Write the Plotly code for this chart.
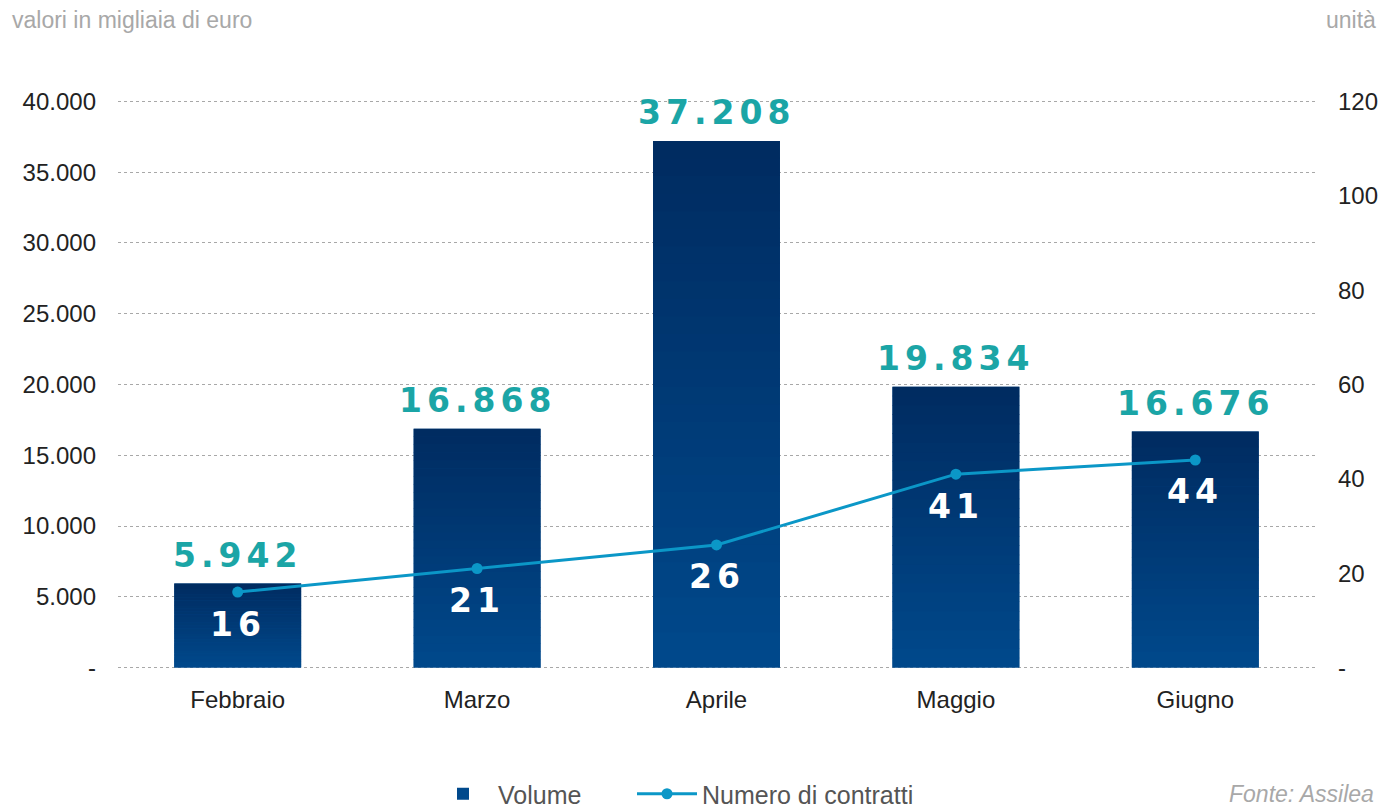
import plotly.graph_objects as go

# Monthly leasing volume (thousand euro) and number of contracts
mesi = ["Febbraio", "Marzo", "Aprile", "Maggio", "Giugno"]
volume = [5942, 16868, 37208, 19834, 16676]
contratti = [16, 21, 26, 41, 44]

left_tickvals = [0, 5000, 10000, 15000, 20000, 25000, 30000, 35000, 40000]
left_ticktext = ["-", "5.000", "10.000", "15.000", "20.000", "25.000", "30.000", "35.000", "40.000"]
right_tickvals = [0, 20, 40, 60, 80, 100, 120]
right_ticktext = ["-", "20", "40", "60", "80", "100", "120"]

BAR_TOP = (0x00, 0x2b, 0x60)
BAR_BOTTOM = (0x00, 0x49, 0x8c)
LINE_COLOR = "#0b97c7"
TEAL = "#1ba5a6"
N_STEPS = 30
BAR_WIDTH = 0.53

# Small padding so the gridlines at 0 and at the top value stay visible
PAD = 0.0025
Y1_RANGE = [-40000 * PAD, 40000 * (1 + PAD)]
Y2_RANGE = [-120 * PAD, 120 * (1 + PAD)]


def fmt_it(v):
    return f"{v:,}".replace(",", ".")


def mix(t):
    r = [round(BAR_BOTTOM[i] + (BAR_TOP[i] - BAR_BOTTOM[i]) * t) for i in range(3)]
    return f"rgb({r[0]},{r[1]},{r[2]})"


fig = go.Figure()

# Base bar (legend entry) in the lower tone
fig.add_trace(go.Bar(
    x=mesi, y=volume, name="Volume", legend="legend",
    marker=dict(color=mix(0.0), line=dict(width=0)),
    width=BAR_WIDTH, hoverinfo="skip",
))

# Vertical gradient: stacked slices of each bar, darker towards the top
for k in range(N_STEPS):
    fig.add_trace(go.Bar(
        x=mesi,
        y=[v / N_STEPS + (v * 0.002 if k < N_STEPS - 1 else 0) for v in volume],
        base=[v * k / N_STEPS for v in volume],
        marker=dict(color=mix((k + 0.5) / N_STEPS), line=dict(width=0)),
        width=BAR_WIDTH, showlegend=False, hoverinfo="skip",
    ))

fig.add_trace(go.Scatter(
    x=mesi, y=contratti, yaxis="y2", name="Numero di contratti",
    legend="legend2", mode="lines+markers",
    line=dict(color=LINE_COLOR, width=3),
    marker=dict(color=LINE_COLOR, size=11),
))

label_font = "DejaVu Sans"
annotations = []
for m, v in zip(mesi, volume):
    annotations.append(dict(
        x=m, y=v, xref="x", yref="y", yshift=28, showarrow=False,
        text=f'<span style="letter-spacing:5px">{fmt_it(v)}</span>',
        font=dict(family=label_font, size=33, color=TEAL, weight="bold"),
        yanchor="middle",
    ))
for m, c in zip(mesi, contratti):
    annotations.append(dict(
        x=m, y=c, xref="x", yref="y2", yshift=-32, showarrow=False,
        text=f'<span style="letter-spacing:5px">{c}</span>',
        font=dict(family=label_font, size=33, color="white", weight="bold"),
        yanchor="middle",
    ))

page_notes = [
    dict(x=10, y=20, text="valori in migliaia di euro", xanchor="left"),
    dict(x=1378, y=20, text="unità", xanchor="right"),
    dict(x=1376, y=794, text="<i>Fonte: Assilea</i>", xanchor="right"),
]

W, H = 1386, 808
L, R, T, B = 118, 71, 100, 139
PW, PH = W - L - R, H - T - B


def px_x(x):
    return (x - L) / PW


def px_y(y):
    return 1 - (y - T) / PH


for n in page_notes:
    annotations.append(dict(
        x=px_x(n["x"]), y=px_y(n["y"]), xref="paper", yref="paper",
        text=n["text"], showarrow=False, xanchor=n["xanchor"], yanchor="middle",
        font=dict(family="Liberation Sans", size=23, color="#a8a8a8"),
    ))

legend_style = dict(
    orientation="h", yanchor="middle", y=px_y(794), xanchor="left",
    font=dict(size=25, color="#555555"), itemwidth=60,
    bgcolor="rgba(0,0,0,0)",
)

fig.update_layout(
    width=W, height=H,
    margin=dict(l=L, r=R, t=T, b=B, pad=0, autoexpand=False),
    paper_bgcolor="white", plot_bgcolor="white",
    barmode="overlay", bargap=0.47,
    font=dict(family="Liberation Sans", size=24, color="#222222"),
    xaxis=dict(
        range=[-0.5, 4.5], showgrid=False, zeroline=False, showline=False,
        ticks="", ticklabelstandoff=14, tickfont=dict(size=24, color="#222222"),
    ),
    yaxis=dict(
        range=Y1_RANGE, tickvals=left_tickvals, ticktext=left_ticktext,
        showgrid=True, gridcolor="#a8a8a8", griddash="dot", gridwidth=1,
        zeroline=False, showline=False, ticks="", ticklabelstandoff=21,
        tickfont=dict(size=24, color="#222222"),
    ),
    yaxis2=dict(
        range=Y2_RANGE, tickvals=right_tickvals, ticktext=right_ticktext,
        overlaying="y", side="right", showgrid=False, zeroline=False,
        showline=False, ticks="", ticklabelstandoff=22,
        tickfont=dict(size=24, color="#222222"),
    ),
    legend=dict(legend_style, x=px_x(428)),
    legend2=dict(legend_style, x=px_x(632)),
    annotations=annotations,
    showlegend=True,
)

fig.write_html("out.html")
